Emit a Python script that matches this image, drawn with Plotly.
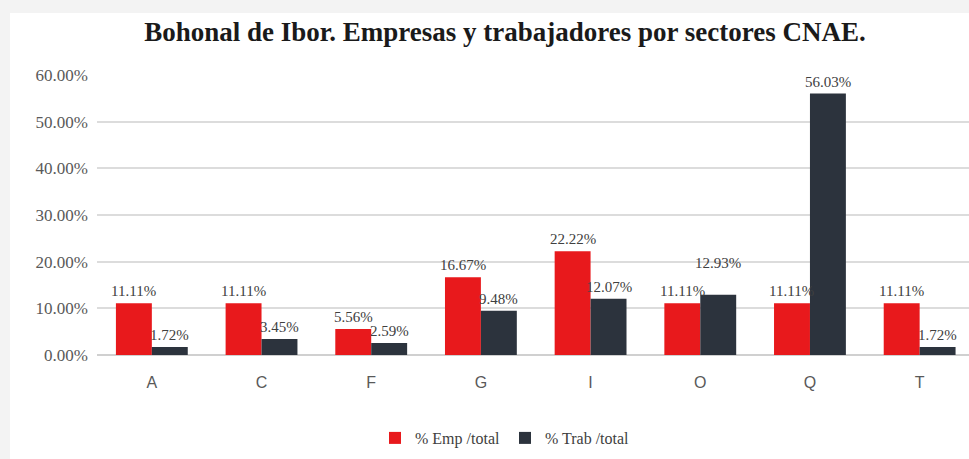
import plotly.graph_objects as go

# Sectores CNAE y porcentajes de empresas / trabajadores
sectores = ["A", "C", "F", "G", "I", "O", "Q", "T"]
emp_total = [11.11, 11.11, 5.56, 16.67, 22.22, 11.11, 11.11, 11.11]
trab_total = [1.72, 3.45, 2.59, 9.48, 12.07, 12.93, 56.03, 1.72]
y_ticks = [0, 10, 20, 30, 40, 50, 60]

W, H = 969, 459
L, R, T, B = 97, 0, 75, 104
pw, ph = W - L - R, H - T - B

serif = "Liberation Serif, Times New Roman, serif"
label_font = dict(family=serif, size=15, color="#404040")
BAR_SHIFT = 18  # px from category centre to each bar's centre

fig = go.Figure()
fig.add_trace(go.Bar(
    x=sectores, y=emp_total, name="% Emp /total",
    marker=dict(color="#e8191c", line=dict(width=0)),
))
fig.add_trace(go.Bar(
    x=sectores, y=trab_total, name="% Trab /total",
    marker=dict(color="#2c333d", line=dict(width=0)),
))

# value labels above each bar; the crowded O pair gets its second label lifted
for vals, dx in ((emp_total, -BAR_SHIFT), (trab_total, BAR_SHIFT)):
    for cat, v in zip(sectores, vals):
        lift = 22 if (dx > 0 and cat == "O") else 2
        fig.add_annotation(
            x=cat, y=v, xref="x", yref="y", text=f"{v:.2f}%",
            showarrow=False, xshift=dx, yshift=lift, yanchor="bottom",
            font=label_font,
        )

# white card on a light grey page
fig.add_shape(
    type="rect", xref="paper", yref="paper", layer="below",
    x0=(10 - L) / pw, x1=(W + 5 - L) / pw,
    y0=(H - B - (H + 5)) / ph, y1=(H - B - 13) / ph,
    fillcolor="white", line=dict(width=0),
)

fig.update_layout(
    width=W, height=H,
    margin=dict(l=L, r=R, t=T, b=B),
    font=dict(family=serif, color="#404040"),
    paper_bgcolor="#f3f3f3",
    plot_bgcolor="white",
    barmode="group",
    bargap=0.345,
    bargroupgap=0,
    title=dict(
        text="<b>Bohonal de Ibor. Empresas y trabajadores por sectores CNAE.</b>",
        font=dict(family=serif, size=27, color="#1a1a1a"),
        x=505 / W, xanchor="center", y=1 - 32 / H, yanchor="middle",
    ),
    legend=dict(
        orientation="h", x=(505 - L) / pw, xanchor="center",
        y=(H - B - 438) / ph, yanchor="middle",
        font=dict(family=serif, size=16, color="#404040"),
        bgcolor="rgba(0,0,0,0)", traceorder="normal",
    ),
    xaxis=dict(
        range=[-0.5, 7.45], showgrid=False, showline=False, ticks="",
        tickfont=dict(family="Liberation Sans", size=16, color="#595959"),
        ticklabelstandoff=16,
    ),
    yaxis=dict(
        range=[0, 60], tickvals=y_ticks,
        ticktext=[f"{v:.2f}%" for v in y_ticks],
        showgrid=True, gridcolor="#dcdcdc", gridwidth=1.5,
        zeroline=True, zerolinecolor="#d0d0d0", zerolinewidth=1.5,
        showline=False, ticks="",
        tickfont=dict(family=serif, size=17, color="#595959"),
        ticklabelstandoff=8,
    ),
)

fig.write_html("out.html")
